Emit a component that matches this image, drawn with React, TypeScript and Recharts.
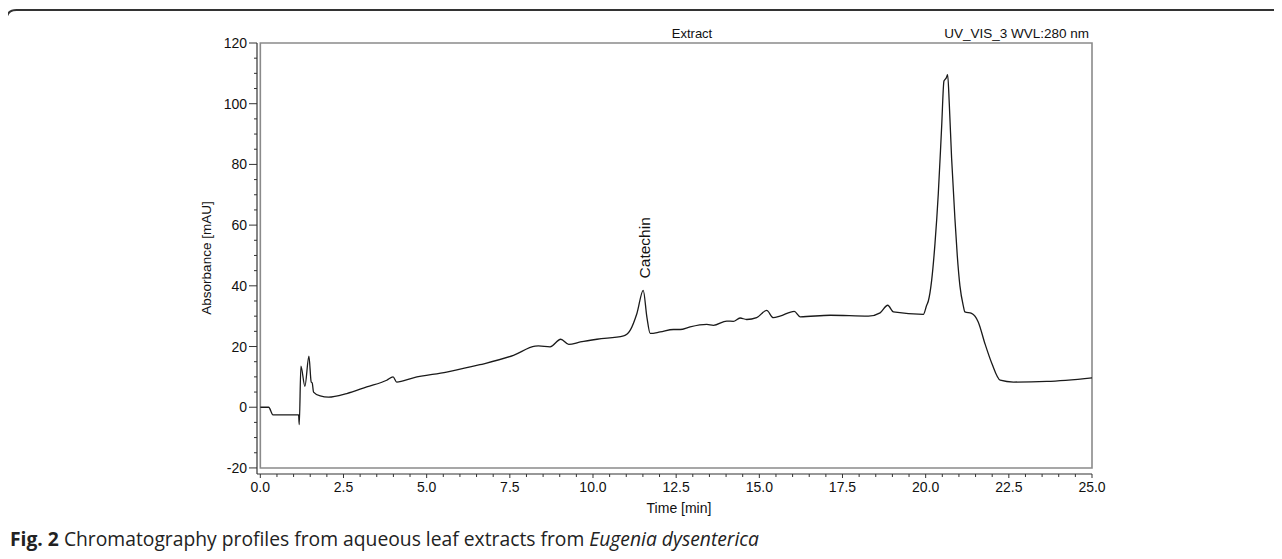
import React from "react";
import { ComposedChart, Line, XAxis, YAxis, ReferenceArea, ReferenceDot } from "recharts";

const timeMin = [
  0.0, 0.25, 0.38, 1.15, 1.17, 1.22, 1.34, 1.46, 1.53, 1.56, 1.6, 1.8, 2.05, 2.6, 3.2, 3.8, 3.99, 4.1,
  4.6, 5.6, 6.6, 7.61, 8.26, 8.36, 8.71, 9.03, 9.27, 9.62, 10.12, 10.92, 11.12, 11.32, 11.51, 11.62,
  11.72, 12.02, 12.42, 12.62, 12.92, 13.42, 13.62, 14.02, 14.22, 14.42, 14.62, 14.92, 15.22, 15.42,
  15.62, 16.05, 16.23, 17.13, 18.28, 18.63, 18.86, 19.03, 19.93, 20.03, 20.08, 20.18, 20.28, 20.38,
  20.48, 20.55, 20.62, 20.66, 20.71, 20.78, 20.88, 20.95, 21.03, 21.13, 21.18, 21.38, 21.58, 21.78,
  21.99, 22.24, 22.64, 23.64, 25.0,
];
const absorbance = [
  0.0, 0.0, -2.5, -2.5, -5.7, 13.5, 6.9, 16.8, 8.3, 8.0, 5.0, 3.7, 3.3, 4.5, 6.7, 8.9, 10.0, 8.3,
  9.7, 11.6, 14.0, 17.1, 20.1, 20.2, 19.9, 22.4, 20.7, 21.5, 22.4, 23.5, 25.4, 30.9, 38.5, 29.7,
  24.3, 24.8, 25.6, 25.6, 26.5, 27.3, 27.0, 28.4, 28.3, 29.4, 28.9, 29.5, 31.9, 29.5,
  30.0, 31.6, 29.8, 30.3, 30.0, 31.1, 33.6, 31.4, 30.6, 33.6, 35.0, 41.8, 53.9, 70.4,
  92.3, 107.5, 108.5, 109.6, 100.0, 82.0, 62.0, 50.0, 40.0, 33.5, 31.4, 30.9, 28.1, 21.0,
  14.4, 8.9, 8.3, 8.5, 9.7,
];
const xTicks = Array.from({ length: 51 }, (_, i) => i * 0.5);
const yTicks = Array.from({ length: 29 }, (_, i) => -20 + i * 5);
const catechinTime = 11.51;
const catechinValue = 38.5;

const data = timeMin.map((t, i) => ({ t, v: absorbance[i] }));

const AXIS_FONT = "'Liberation Sans', Arial, sans-serif";

const YTick = (props: any) => {
  const { x, y, payload } = props;
  const v = payload.value;
  const major = v % 20 === 0;
  const len = major ? 8 : 3;
  return (
    <g>
      <line x1={x} x2={x - len} y1={y} y2={y} stroke="#333" strokeWidth={1} />
      {major && (
        <text x={x - 10} y={y} dy={5} textAnchor="end" fontSize={14} fontFamily={AXIS_FONT} fill="#111">
          {v}
        </text>
      )}
    </g>
  );
};

const XTick = (props: any) => {
  const { x, y, payload } = props;
  const v = payload.value;
  const major = Math.abs(v / 2.5 - Math.round(v / 2.5)) < 1e-6;
  const len = major ? 4 : 3;
  return (
    <g>
      <line x1={x} x2={x} y1={y} y2={y + len} stroke="#333" strokeWidth={1} />
      {major && (
        <text x={x} y={y + 18} textAnchor="middle" fontSize={14} fontFamily={AXIS_FONT} fill="#111">
          {v.toFixed(1)}
        </text>
      )}
    </g>
  );
};

const CatechinLabel = (props: any) => {
  const vb = props.viewBox || {};
  const cx = (vb.x ?? 0) + (vb.width ?? 0) / 2;
  const cy = (vb.y ?? 0) + (vb.height ?? 0) / 2;
  const tx = cx + 7;
  const ty = cy - 12;
  return (
    <text x={tx} y={ty} transform={`rotate(-90 ${tx} ${ty})`} fontSize={15.5} fontFamily={AXIS_FONT} fill="#111">
      Catechin
    </text>
  );
};

export default function App() {
  return (
    <div style={{ position: "relative", width: 1282, height: 559, margin: -8, overflow: "hidden", background: "#fff" }}>
      <svg width={1282} height={559} style={{ position: "absolute", left: 0, top: 0 }}>
        <path
          d="M 6.5 600 L 6.5 20 Q 6.5 10 16.5 10 L 1300 10"
          fill="none"
          stroke="#333"
          strokeWidth={2}
        />
      </svg>
      <div style={{ position: "absolute", left: 0, top: 0 }}>
        <ComposedChart width={1282} height={559} data={data} margin={{ top: 43, right: 190, bottom: 55, left: 0 }}>
          <ReferenceArea x1={0} x2={25} y1={-20} y2={120} fill="none" stroke="#8a8a8a" strokeWidth={1.6} />
          <XAxis
            dataKey="t"
            type="number"
            domain={[-0.1, 25]}
            ticks={xTicks}
            interval={0}
            tickSize={0}
            tickMargin={0}
            tickLine={false}
            tick={<XTick />}
            axisLine={{ stroke: "#333", strokeWidth: 1.2 }}
            height={30}
            allowDataOverflow
          />
          <YAxis
            type="number"
            domain={[-22, 120]}
            ticks={yTicks}
            interval={0}
            tickSize={0}
            tickMargin={0}
            tickLine={false}
            tick={<YTick />}
            axisLine={{ stroke: "#333", strokeWidth: 1.2 }}
            width={257}
            allowDataOverflow
          />
          <Line
            type="monotone"
            dataKey="v"
            stroke="#1a1a1a"
            strokeWidth={1.3}
            dot={false}
            isAnimationActive={false}
          />
          <ReferenceDot
            x={catechinTime}
            y={catechinValue}
            r={1}
            fill="none"
            stroke="none"
            label={<CatechinLabel />}
          />
          <text x={692} y={38} textAnchor="middle" fontSize={13} fontFamily={AXIS_FONT} fill="#111">
            Extract
          </text>
          <text x={1089} y={38} textAnchor="end" fontSize={13.5} fontFamily={AXIS_FONT} fill="#111">
            UV_VIS_3 WVL:280 nm
          </text>
          <text x={679} y={513} textAnchor="middle" fontSize={14} fontFamily={AXIS_FONT} fill="#111">
            Time [min]
          </text>
          <text
            x={211}
            y={258}
            textAnchor="middle"
            transform="rotate(-90 211 258)"
            fontSize={13.5}
            fontFamily={AXIS_FONT}
            fill="#111"
          >
            Absorbance [mAU]
          </text>
        </ComposedChart>
      </div>
      <div
        style={{
          position: "absolute",
          left: 10,
          top: 526,
          fontFamily: "'Open Sans', 'Noto Sans', sans-serif",
          fontSize: 19.3,
          lineHeight: "26px",
          color: "#222",
          whiteSpace: "nowrap",
        }}
      >
        <b>Fig. 2</b> Chromatography profiles from aqueous leaf extracts from <i>Eugenia dysenterica</i>
      </div>
    </div>
  );
}
